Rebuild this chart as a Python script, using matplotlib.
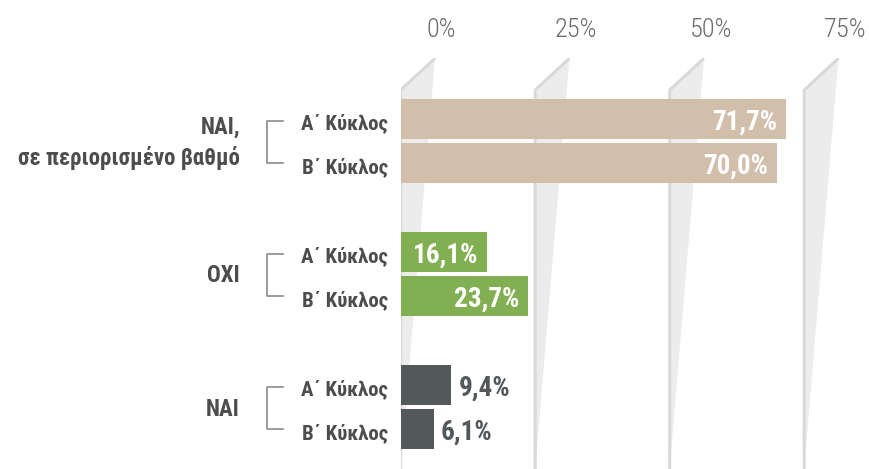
import matplotlib
matplotlib.use("Agg")
import matplotlib.pyplot as plt
from matplotlib.patches import Polygon
import matplotlib.transforms as mtransforms

# ---- data ----
groups = ["ΝΑΙ,\nσε περιορισμένο βαθμό", "ΟΧΙ", "ΝΑΙ"]
rounds = ["Α΄ Κύκλος", "Β΄ Κύκλος"]
values = [[71.7, 70.0], [16.1, 23.7], [9.4, 6.1]]
value_labels = [["71,7%", "70,0%"], ["16,1%", "23,7%"], ["9,4%", "6,1%"]]
ticks = [0, 25, 50, 75]
tick_labels = ["0%", "25%", "50%", "75%"]

# ---- style ----
colors = ["#d1bfab", "#82af51", "#53585b"]
label_inside = [True, True, False]
COND = ["Roboto Condensed", "Liberation Sans Narrow", "Roboto", "DejaVu Sans"]
text_col = "#4d4d4d"

W, H = 869, 469
fig = plt.figure(figsize=(W / 100, H / 100), dpi=100)
x0_px = 400.7
top_px = 58.3
ax = fig.add_axes([x0_px / W, 0, 1 - x0_px / W, (H - top_px) / H])
px_per_unit = 5.38
ax.set_xlim(0, (W - x0_px) / px_per_unit)
ax.set_ylim(H, top_px)
for s in ax.spines.values():
    s.set_visible(False)
ax.set_yticks([])

# perspective grid shapes
wedge_w = 34.3 / px_per_unit
grid_base = 90
for t in ticks:
    poly = Polygon([(t, grid_base), (t + wedge_w, top_px), (t, H)], closed=True,
                   facecolor="#ececec", edgecolor="none", zorder=0)
    ax.add_patch(poly)
    ax.plot([t, t, t + wedge_w], [H, grid_base, top_px], color="#d9d9d9", lw=2.2,
            solid_capstyle="butt", zorder=0.5)

# ticks on top with offset labels
ax.xaxis.tick_top()
ax.set_xticks(ticks)
ax.set_xticklabels(tick_labels, fontsize=19, color="#6b6b6b",
                   fontfamily=COND, fontweight="light")
ax.tick_params(axis="x", length=0, pad=12)
off = mtransforms.ScaledTranslation(41 / 100, 0, fig.dpi_scale_trans)
for lab in ax.get_xticklabels():
    lab.set_transform(lab.get_transform() + off)

# bars
group_gap = 133
first_center = 141
bar_off = 22
bar_h = 40
for gi, g in enumerate(groups):
    gc = first_center + gi * group_gap
    ys = [gc - bar_off, gc + bar_off]
    ax.barh(ys, values[gi], height=bar_h, left=0, color=colors[gi], zorder=2)
    for ri in range(2):
        v = values[gi][ri]
        y = ys[ri]
        if label_inside[gi]:
            ax.annotate(value_labels[gi][ri], xy=(v, y), xytext=(-9, 0),
                        textcoords="offset pixels", ha="right", va="center_baseline",
                        fontsize=19.5, fontweight="bold", color="white",
                        fontfamily=COND, zorder=3)
        else:
            ax.annotate(value_labels[gi][ri], xy=(v, y), xytext=(7, 0),
                        textcoords="offset pixels", ha="left", va="center_baseline",
                        fontsize=19.5, fontweight="bold", color="#53585b",
                        fontfamily=COND, zorder=3)
        ax.annotate(rounds[ri], xy=(0, y + 2), xytext=(-12.7, 0),
                    textcoords="offset pixels", ha="right", va="center_baseline",
                    fontsize=15, fontweight="bold", color=text_col,
                    fontfamily=COND, annotation_clip=False)
    # bracket
    bx1 = -134 / px_per_unit
    bx2 = -117.7 / px_per_unit
    ax.plot([bx2, bx1, bx1, bx2], [ys[0] + 2, ys[0] + 2, ys[1], ys[1]],
            color="#8a8a8a", lw=1.2, clip_on=False)
    ax.annotate(g, xy=(0, gc + 2), xytext=(-160.7, 0), textcoords="offset pixels",
                ha="right", va="center", multialignment="right",
                fontsize=16.5, fontweight="bold", color=text_col, fontfamily=COND,
                linespacing=1.35, annotation_clip=False)

fig.savefig("out.png", dpi=100)
